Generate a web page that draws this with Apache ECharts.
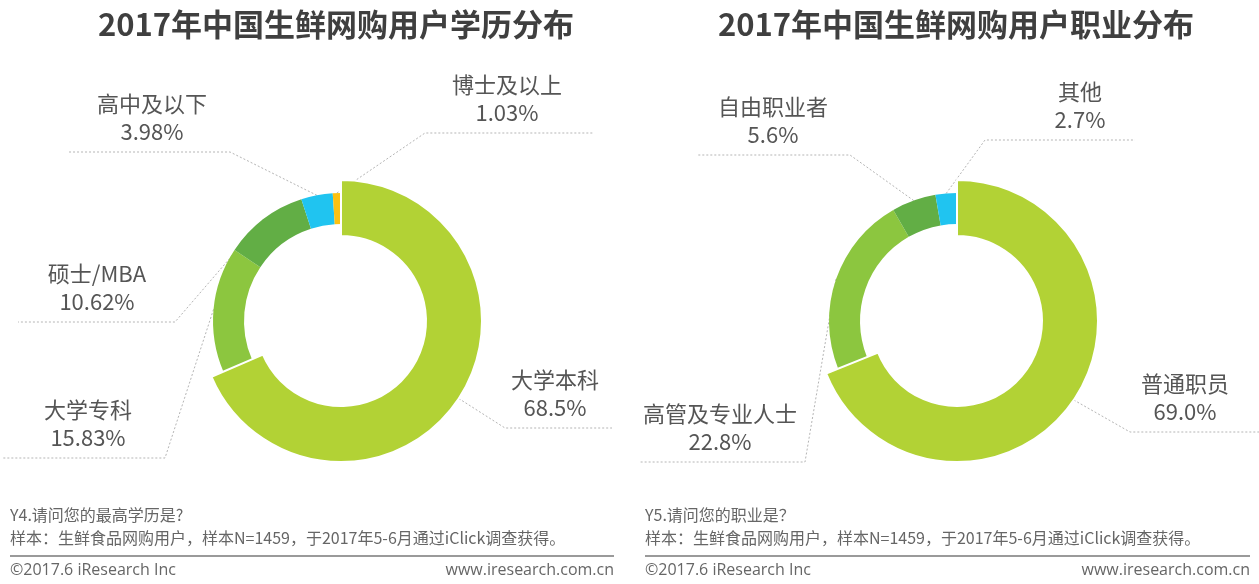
<!DOCTYPE html>
<html>
<head>
<meta charset="utf-8">
<script src="https://cdn.jsdelivr.net/npm/echarts@6/dist/echarts.min.js"></script>
<style>
  html, body { margin: 0; padding: 0; background: #fff; }
  #chart { width: 1259px; height: 584px; }
</style>
</head>
<body>
<div id="chart"></div>
<script>
// 学历分布
const eduNames = ['大学本科', '大学专科', '硕士/MBA', '高中及以下', '博士及以上']
const eduValues = [68.5, 15.83, 10.62, 3.98, 1.03]

// 职业分布
const jobNames = ['普通职员', '高管及专业人士', '自由职业者', '其他']
const jobValues = [69.0, 22.8, 5.6, 2.7]

const titles = ['2017年中国生鲜网购用户学历分布', '2017年中国生鲜网购用户职业分布']
const questions = ['Y4.请问您的最高学历是?', 'Y5.请问您的职业是？']
const sampleNote = '样本：生鲜食品网购用户，样本N=1459，于2017年5-6月通过iClick调查获得。'
const copyright = '©2017.6 iResearch Inc'
const website = 'www.iresearch.com.cn'

const palette = ['#b2d235', '#8cc63f', '#62ae45', '#20c4f0', '#fdc112']
const cjkFont = '"Noto Sans CJK SC", "Microsoft YaHei", sans-serif'

// label placement: text centre x, underline y, underline from x0 to x1
const labelSpots = [
  [
    { cx: 555, ly: 428, x0: 505, x1: 612 },
    { cx: 88, ly: 458, x0: 2, x1: 165 },
    { cx: 97, ly: 322, x0: 18, x1: 175 },
    { cx: 152, ly: 152, x0: 68, x1: 230 },
    { cx: 507, ly: 133, x0: 425, x1: 593 },
  ],
  [
    { cx: 1185, ly: 432, x0: 1130, x1: 1259 },
    { cx: 720, ly: 462, x0: 640, x1: 805 },
    { cx: 773, ly: 155, x0: 697, x1: 850 },
    { cx: 1080, ly: 140, x0: 985, x1: 1135 },
  ],
]

const centers = [[341, 321], [957, 321]]

const chart = echarts.init(document.getElementById('chart'))

// the biggest slice is drawn thicker, so each donut is two pie series:
// one for the small slices and one for the big slice
const buildPies = (names, values, chartIdx, fmt) => {
  const make = (bigLayer) => ({
    type: 'pie',
    center: centers[chartIdx],
    radius: bigLayer ? [85, 141] : [97, 128],
    startAngle: 90,
    clockwise: true,
    silent: true,
    avoidLabelOverlap: false,
    label: {
      show: true,
      formatter: (p) => p.name + '\n' + fmt(p.value) + '%',
      fontFamily: cjkFont,
      fontSize: 22,
      lineHeight: 28,
      color: '#555555',
      align: 'center',
    },
    labelLine: {
      show: true,
      length: 20,
      length2: 20,
      lineStyle: { color: '#b5b5b5', width: 1, type: [2, 2] },
    },
    labelLayout: (params) => {
      const spot = labelSpots[chartIdx][params.dataIndex]
      if (!spot) return {}
      const center = centers[chartIdx]
      const onLeft = spot.cx < center[0]
      const start = params.labelLinePoints ? params.labelLinePoints[0] : [spot.x0, spot.ly]
      const inner = onLeft ? spot.x1 : spot.x0
      const outer = onLeft ? spot.x0 : spot.x1
      return {
        x: spot.cx,
        y: spot.ly - 6,
        align: 'center',
        verticalAlign: 'bottom',
        labelLinePoints: [start, [inner, spot.ly], [outer, spot.ly]],
      }
    },
    data: names.map((name, i) => {
      const visible = bigLayer ? i === 0 : i !== 0
      return {
        name,
        value: values[i],
        itemStyle: visible
          ? { color: palette[i], borderColor: '#ffffff', borderWidth: i === 0 ? 2 : 0 }
          : { color: 'transparent', borderWidth: 0 },
        label: { show: visible },
        labelLine: { show: visible },
      }
    }),
  })
  return [make(false), make(true)]
}

const footer = (x0, x1, question) => [
  {
    type: 'text', left: x0, top: 507,
    style: { text: question, font: '16px ' + cjkFont, fill: '#666666' },
  },
  {
    type: 'text', left: x0, top: 530,
    style: { text: sampleNote, font: '16px ' + cjkFont, fill: '#666666' },
  },
  {
    type: 'line',
    shape: { x1: x0, y1: 556, x2: x1, y2: 556 },
    style: { stroke: '#9a9a9a', lineWidth: 2 },
  },
  {
    type: 'text', left: x0, top: 562,
    style: { text: copyright, font: '16px "Open Sans", sans-serif', fill: '#666666' },
  },
  {
    type: 'text', right: 1259 - x1, top: 562,
    style: { text: website, font: '16px "Open Sans", sans-serif', fill: '#666666', textAlign: 'right' },
  },
]

const option = {
  backgroundColor: '#ffffff',
  animation: false,
  title: titles.map((t, i) => ({
    text: t,
    left: i === 0 ? 331 : 951,
    top: 4,
    textAlign: 'center',
    textStyle: {
      fontFamily: cjkFont,
      fontSize: 31,
      fontWeight: 'bold',
      color: '#3f3f3f',
    },
  })),
  series: [
    ...buildPies(eduNames, eduValues, 0, (v) => String(v)),
    ...buildPies(jobNames, jobValues, 1, (v) => v.toFixed(1)),
  ],
  graphic: [...footer(10, 614, questions[0]), ...footer(645, 1250, questions[1])],
}

chart.setOption(option)
</script>
</body>
</html>
